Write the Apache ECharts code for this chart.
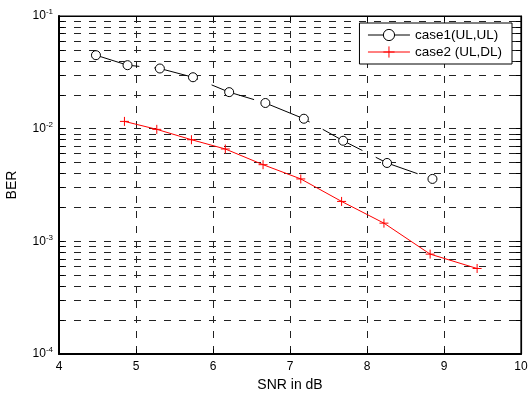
<!DOCTYPE html>
<html>
<head>
<meta charset="utf-8">
<script src="https://cdn.jsdelivr.net/npm/echarts@6/dist/echarts.min.js"></script>
<style>
  html, body { margin: 0; padding: 0; background: #fff; }
  #chart { width: 528px; height: 394px; }
</style>
</head>
<body>
<div id="chart"></div>
<script>
// values
const case1X = [4.48, 4.89, 5.31, 5.74, 6.21, 6.68, 7.18, 7.69, 8.26, 8.85];
const case1Y = [0.0449, 0.0366, 0.0342, 0.0286, 0.0211, 0.0169, 0.01225, 0.00781, 0.00496, 0.00358];
const case2X = [4.85, 5.27, 5.72, 6.16, 6.65, 7.14, 7.67, 8.22, 8.82, 9.43];
const case2Y = [0.0116, 0.00986, 0.00798, 0.0066, 0.00479, 0.00358, 0.00226, 0.00145, 0.00077, 0.000574];

const yDecades = [1e-4, 1e-3, 1e-2, 1e-1];
const mults = [1, 2, 3, 4, 5, 6, 7, 8, 9];

// minor log ticks 1..9 x each decade
const yMinor = [];
yDecades.slice(0, 3).forEach(d => mults.forEach(m => yMinor.push(+(d * m).toPrecision(3))));
yMinor.push(1e-1);

const font = 'Liberation Sans, Arial, sans-serif';
const dash = [7, 8];

const chart = echarts.init(document.getElementById('chart'), null, { renderer: 'canvas' });

const supLabel = v => '{b|10}{s|' + Math.round(Math.log10(v)) + '}';
const richLab = {
    b: { fontSize: 12, fontFamily: font, color: '#000' },
    s: { fontSize: 8, fontFamily: font, color: '#000', padding: [0, 0, 8, 0] }
};

chart.setOption({
    animation: false,
    backgroundColor: '#fff',
    grid: {
        left: 59, right: 7, top: 16, bottom: 40,
        containLabel: false,
        outerBoundsMode: 'none',
        show: true, borderColor: '#000', borderWidth: 1.2, backgroundColor: 'transparent'
    },
    legend: {
        data: ['case1(UL,UL)', 'case2 (UL,DL)'],
        orient: 'vertical',
        right: 16, top: 23,
        z: 10,
        padding: [5, 10, 5, 8],
        itemGap: 3,
        itemWidth: 42, itemHeight: 14,
        backgroundColor: '#fff',
        borderColor: '#000', borderWidth: 1,
        borderRadius: 0,
        lineStyle: { type: 'solid', width: 1 },
        itemStyle: { borderWidth: 1 },
        textStyle: { fontSize: 13.5, fontFamily: font, color: '#000' }
    },
    xAxis: [{
        type: 'value', min: 4, max: 10, interval: 1,
        name: 'SNR in dB', nameLocation: 'middle', nameGap: 20,
        nameTextStyle: { fontSize: 14, fontFamily: font, color: '#000' },
        axisLine: { lineStyle: { color: '#000', width: 2 } },
        axisTick: { inside: true, length: 5, lineStyle: { color: '#000' } },
        axisLabel: { fontSize: 12, fontFamily: font, color: '#000', margin: 7 },
        splitLine: { show: true, lineStyle: { color: '#222', type: dash, width: 1 } }
    }, {
        type: 'value', min: 4, max: 10, interval: 1, position: 'top',
        axisLine: { lineStyle: { color: '#000', width: 1.2 } },
        axisTick: { inside: true, length: 5, lineStyle: { color: '#000' } },
        axisLabel: { show: false },
        splitLine: { show: false }
    }],
    yAxis: [{
        type: 'log', logBase: 10, min: 1e-4, max: 1e-1,
        name: 'BER', nameLocation: 'middle', nameGap: 40, nameRotate: 90,
        nameTextStyle: { fontSize: 14, fontFamily: font, color: '#000' },
        axisLine: { show: true, lineStyle: { color: '#000', width: 2 } },
        axisTick: { inside: true, length: 5, customValues: yMinor, lineStyle: { color: '#000' } },
        axisLabel: { customValues: yDecades, formatter: supLabel, rich: richLab, margin: 6 },
        splitLine: { show: true, lineStyle: { color: '#222', type: dash, width: 1 } }
    }, {
        type: 'log', logBase: 10, min: 1e-4, max: 1e-1, position: 'right',
        axisLine: { show: true, lineStyle: { color: '#000', width: 1.2 } },
        axisTick: { inside: true, length: 5, customValues: yMinor, lineStyle: { color: '#000' } },
        axisLabel: { show: false },
        splitLine: { show: false }
    }],
    series: [{
        name: 'case1(UL,UL)',
        type: 'line',
        data: case1X.map((x, i) => [x, case1Y[i]]),
        symbol: 'circle',
        symbolSize: 9,
        z: 3,
        lineStyle: { color: '#000', width: 1, type: [45, 15] },
        itemStyle: { color: '#fff', borderColor: '#000', borderWidth: 1 }
    }, {
        name: 'case2 (UL,DL)',
        type: 'line',
        data: case2X.map((x, i) => [x, case2Y[i]]),
        symbol: 'path://M5,0L5,10M0,5L10,5',
        symbolSize: 9,
        z: 3,
        lineStyle: { color: '#f00', width: 1 },
        itemStyle: { color: '#f00', borderColor: '#f00', borderWidth: 1 }
    }]
});
</script>
</body>
</html>
